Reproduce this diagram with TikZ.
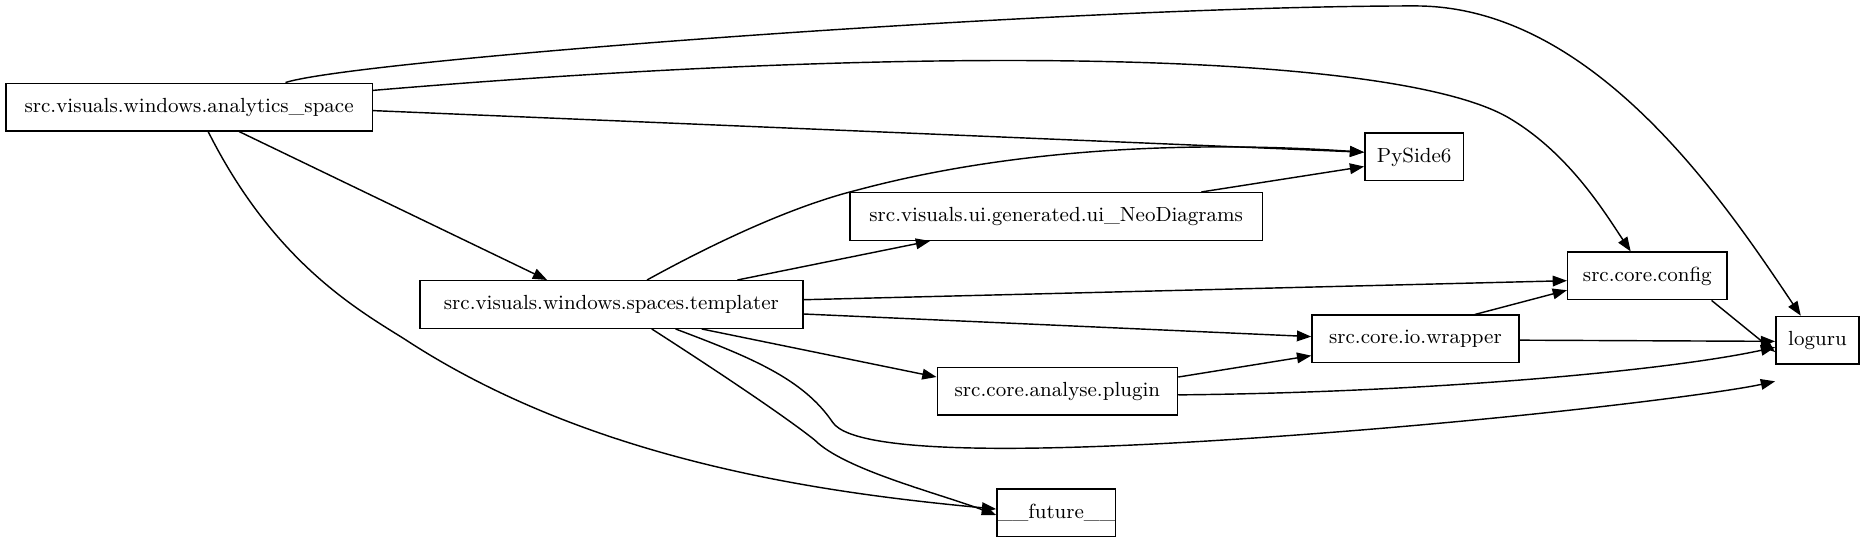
\documentclass[tikz,border=0pt]{standalone}
\usetikzlibrary{arrows.meta}
\begin{document}
\begin{tikzpicture}[x=0.5pt,y=-0.5pt,
  box/.style={draw,line width=0.6pt,inner sep=0pt,minimum height=20pt,font=\fontsize{8.6}{10}\selectfont},
  e/.style={-{Triangle[length=6pt,width=4.5pt]},line width=0.6pt}]
\useasboundingbox (0,0) rectangle (1568,458);
\node[box,minimum width=154pt] (A) at (159,90) {src.visuals.windows.analytics\_space};
\node[box,minimum width=161pt] (T) at (514,256) {src.visuals.windows.spaces.templater};
\node[box,minimum width=173.5pt] (U) at (888,182) {src.visuals.ui.generated.ui\_NeoDiagrams};
\node[box,minimum width=41.5pt] (P) at (1189,132) {PySide6};
\node[box,minimum width=67pt] (C) at (1385,232) {src.core.config};
\node[box,minimum width=87pt] (W) at (1190,285) {src.core.io.wrapper};
\node[box,minimum width=35pt] (L) at (1528,286) {loguru};
\node[box,minimum width=101pt] (An) at (889,329) {src.core.analyse.plugin};
\node[box,minimum width=49pt] (F) at (888,431) {\_\_future\_\_};
\coordinate (t1) at (1190,5);
\coordinate (t2) at (720,160);
\coordinate (t3) at (700,355);
\draw[e] ([xshift=40.5pt]A.north) .. controls (300,50) and (900,5) .. (t1) .. controls (1340,5) and (1450,170) .. ([xshift=-7pt]L.north);
\draw[e] ([yshift=7pt]A.east) .. controls (800,35) and (1180,45) .. (1270,100) .. controls (1320,130) and (1350,180) .. ([xshift=-7pt]C.north);
\draw[e] ([yshift=-1.5pt]A.east) -- ([yshift=2pt]P.west);
\draw[e] ([xshift=21pt]A.south) -- ([xshift=-27pt]T.north);
\draw[e] ([xshift=8pt]A.south) .. controls (230,220) and (300,260) .. (340,285) .. controls (500,390) and (700,415) .. ([yshift=1.5pt]F.west);
\draw[e] ([xshift=15pt]T.north) .. controls (590,210) and (660,175) .. (t2) .. controls (850,125) and (1000,118) .. ([yshift=2pt]P.west);
\draw[e] ([xshift=53pt]T.north) -- ([xshift=-53pt]U.south);
\draw[e] ([xshift=61pt]U.north) -- ([yshift=-4pt]P.west);
\draw[e] ([yshift=2pt]T.east) -- ([yshift=-2pt]C.west);
\draw[e] ([yshift=-4pt]T.east) -- ([yshift=1pt]W.west);
\draw[e] ([xshift=38pt]T.south) -- ([yshift=6pt]An.west);
\draw[e] ([xshift=27pt]T.south) .. controls (630,300) and (675,318) .. (t3) .. controls (720,385) and (900,380) .. (1100,365) .. controls (1300,350) and (1450,330) .. ([yshift=-7pt]L.south west);
\draw[e] ([xshift=17pt]T.south) .. controls (600,310) and (660,350) .. (685,370) .. controls (710,395) and (790,415) .. ([yshift=-1pt]F.west);
\draw[e] ([xshift=27pt]C.south) -- ([yshift=-5pt]L.west);
\draw[e] ([xshift=25pt]W.north) -- ([yshift=-6pt]C.west);
\draw[e] ([yshift=-0.5pt]W.east) -- ([yshift=-0.5pt]L.west);
\draw[e] ([yshift=6pt]An.east) -- ([yshift=-7pt]W.west);
\draw[e] ([yshift=-1.5pt]An.east) .. controls (1200,330) and (1400,312) .. ([yshift=-3pt]L.west);
\end{tikzpicture}
\end{document}
